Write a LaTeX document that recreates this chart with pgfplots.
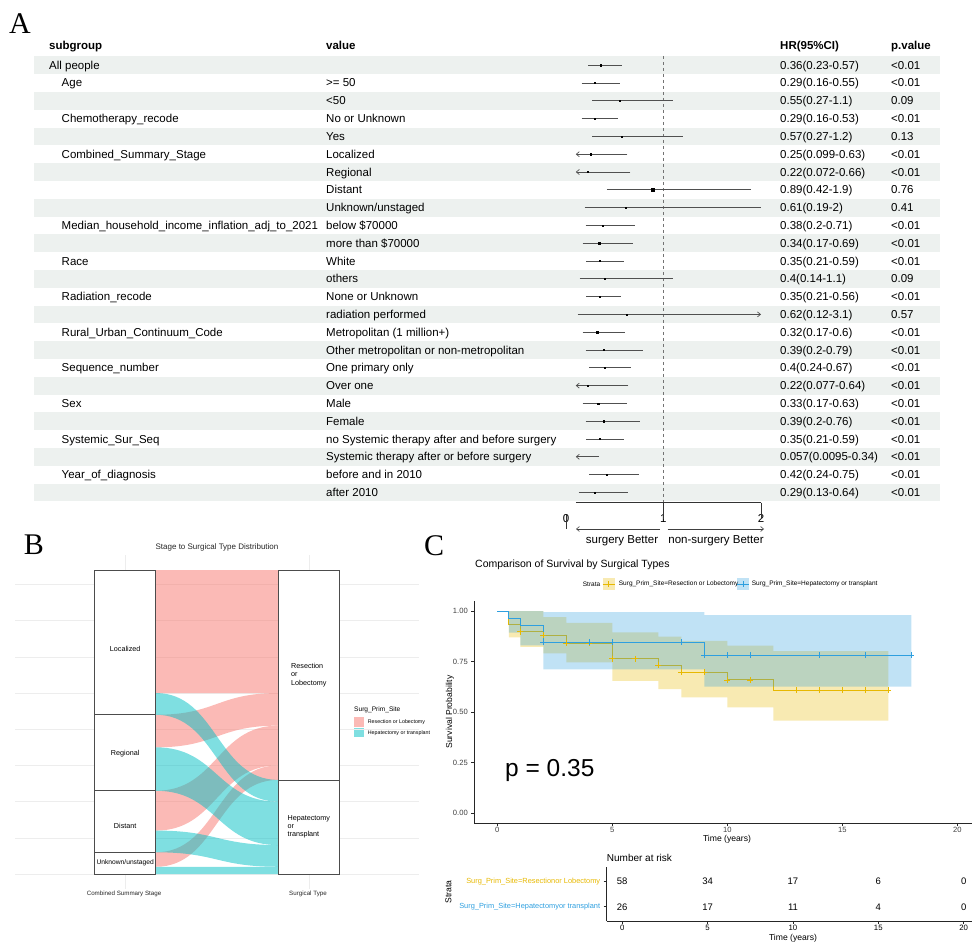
\documentclass[border=0pt]{standalone}
\usepackage{fontspec}
\setmainfont{Liberation Sans}
\newfontfamily\letterfont{Liberation Serif}
\usepackage{pgfplots}
\pgfplotsset{compat=1.18}
\usetikzlibrary{arrows.meta}
\definecolor{band}{RGB}{237,241,239}
\definecolor{cigray}{RGB}{80,80,80}
\definecolor{pinkB}{HTML}{F8766D}
\definecolor{tealB}{HTML}{00BFC4}
\definecolor{kmy}{HTML}{E7B800}
\definecolor{kmb}{HTML}{2E9FDF}
\newcommand{\fs}[1]{\fontsize{#1}{#1}\selectfont}
\tikzset{cell/.style={anchor=base west, inner sep=0pt, font=\fs{11.5}}}
\newcommand{\RW}[5]{%
 \node[cell] at (61.5,{69.2+17.8*#1}) {#2};
 \node[cell] at (326,{69.2+17.8*#1}) {#3};
 \node[cell] at (780,{69.2+17.8*#1}) {#4};
 \node[cell] at (891,{69.2+17.8*#1}) {#5};}
\newcommand{\flow}[5]{\fill[#5, fill opacity=0.5] (axis cs:1.1667,#1) .. controls (axis cs:1.5,#1) and (axis cs:1.5,#3) .. (axis cs:1.8333,#3) -- (axis cs:1.8333,#4) .. controls (axis cs:1.5,#4) and (axis cs:1.5,#2) .. (axis cs:1.1667,#2) -- cycle;}
\begin{document}
\begin{tikzpicture}
\useasboundingbox (0,0) rectangle (972pt,-942pt);
\begin{scope}[x=1pt,y=-1pt]
 % panel letters
 \node[font=\letterfont\fs{30}, inner sep=0pt] at (20,24) {A};
 \node[font=\letterfont\fs{30}, inner sep=0pt] at (34,545) {B};
 \node[font=\letterfont\fs{30}, inner sep=0pt] at (434,546) {C};
 % ---------- Panel A table ----------
 \foreach \i in {0,2,...,24} {\fill[band] (34,{65.2+17.8*\i-8.9}) rectangle (940,{65.2+17.8*\i+8.9});}
 \node[cell, font=\fs{11.5}\bfseries] at (49,49.5) {subgroup};
 \node[cell, font=\fs{11.5}\bfseries] at (326,49.5) {value};
 \node[cell, font=\fs{11.5}\bfseries] at (780,49.5) {HR(95\%CI)};
 \node[cell, font=\fs{11.5}\bfseries] at (891,49.5) {p.value};
 \node[cell] at (49,69.2) {All people};
 \node[cell] at (780,69.2) {0.36(0.23-0.57)};
 \node[cell] at (891,69.2) {<0.01};
 \RW{1}{Age}{>= 50}{0.29(0.16-0.55)}{<0.01}
 \RW{2}{}{<50}{0.55(0.27-1.1)}{0.09}
 \RW{3}{Chemotherapy\_recode}{No or Unknown}{0.29(0.16-0.53)}{<0.01}
 \RW{4}{}{Yes}{0.57(0.27-1.2)}{0.13}
 \RW{5}{Combined\_Summary\_Stage}{Localized}{0.25(0.099-0.63)}{<0.01}
 \RW{6}{}{Regional}{0.22(0.072-0.66)}{<0.01}
 \RW{7}{}{Distant}{0.89(0.42-1.9)}{0.76}
 \RW{8}{}{Unknown/unstaged}{0.61(0.19-2)}{0.41}
 \RW{9}{Median\_household\_income\_inflation\_adj\_to\_2021}{below \$70000}{0.38(0.2-0.71)}{<0.01}
 \RW{10}{}{more than \$70000}{0.34(0.17-0.69)}{<0.01}
 \RW{11}{Race}{White}{0.35(0.21-0.59)}{<0.01}
 \RW{12}{}{others}{0.4(0.14-1.1)}{0.09}
 \RW{13}{Radiation\_recode}{None or Unknown}{0.35(0.21-0.56)}{<0.01}
 \RW{14}{}{radiation performed}{0.62(0.12-3.1)}{0.57}
 \RW{15}{Rural\_Urban\_Continuum\_Code}{Metropolitan (1 million+)}{0.32(0.17-0.6)}{<0.01}
 \RW{16}{}{Other metropolitan or non-metropolitan}{0.39(0.2-0.79)}{<0.01}
 \RW{17}{Sequence\_number}{One primary only}{0.4(0.24-0.67)}{<0.01}
 \RW{18}{}{Over one}{0.22(0.077-0.64)}{<0.01}
 \RW{19}{Sex}{Male}{0.33(0.17-0.63)}{<0.01}
 \RW{20}{}{Female}{0.39(0.2-0.76)}{<0.01}
 \RW{21}{Systemic\_Sur\_Seq}{no Systemic therapy after and before surgery}{0.35(0.21-0.59)}{<0.01}
 \RW{22}{}{Systemic therapy after or before surgery}{0.057(0.0095-0.34)}{<0.01}
 \RW{23}{Year\_of\_diagnosis}{before and in 2010}{0.42(0.24-0.75)}{<0.01}
 \RW{24}{}{after 2010}{0.29(0.13-0.64)}{<0.01}
 % forest x axis labels
 \foreach \xx/\lab in {566/0,663.3/1,761/2} {\node[font=\fs{11.5}, inner sep=0pt] at (\xx,518.5) {\lab};}
 \draw[black!75, line width=0.6pt, -{Straight Barb[length=3pt,width=5pt]}] (660,529) -- (576,529);
 \draw[black!75, line width=0.6pt, -{Straight Barb[length=3pt,width=5pt]}] (667.7,529) -- (764,529);
 \node[font=\fs{11.5}, inner sep=0pt] at (622,541) {surgery Better};
 \node[font=\fs{11.5}, inner sep=0pt] at (716,541) {non-surgery Better};
 % ---------- Panel B texts ----------
 \node[font=\fs{8}, text=black!85] at (217,547) {Stage to Surgical Type Distribution};
 \node[font=\fs{6.2}, text=black!85] at (124,894) {Combined Summary Stage};
 \node[font=\fs{6.2}, text=black!85] at (308,894) {Surgical Type};
 \node[font=\fs{6.6}, anchor=west, inner sep=0pt] at (354,710) {Surg\_Prim\_Site};
 \fill[pinkB, fill opacity=0.5] (354,717.3) rectangle (364,726.7);
 \fill[tealB, fill opacity=0.5] (354,728) rectangle (364,737.3);
 \node[font=\fs{5.3}, anchor=west, inner sep=0pt] at (367.7,722) {Resection or Lobectomy};
 \node[font=\fs{5.3}, anchor=west, inner sep=0pt] at (367.7,732.7) {Hepatectomy or transplant};
 % ---------- Panel C texts ----------
 \node[font=\fs{10.5}, anchor=west, inner sep=0pt] at (475,564.3) {Comparison of Survival by Surgical Types};
 \node[font=\fs{6.5}, anchor=west, inner sep=0pt] at (582.7,584) {Strata};
 \fill[kmy, opacity=0.3] (602.7,578) rectangle (615,590);
 \draw[kmy, line width=0.8pt] (602.7,584) -- (615,584) (608.85,581) -- (608.85,587);
 \node[font=\fs{6.5}, anchor=west, inner sep=0pt] at (618.7,584) {Surg\_Prim\_Site=Resection or Lobectomy};
 \fill[kmb, opacity=0.3] (737,578) rectangle (749,590);
 \draw[kmb, line width=0.8pt] (737,584) -- (749,584) (743,581) -- (743,587);
 \node[font=\fs{6.5}, anchor=west, inner sep=0pt] at (751.7,584) {Surg\_Prim\_Site=Hepatectomy or transplant};
 \node[font=\fs{8.6}, rotate=90] at (450,712) {Survival Probability};
 \node[font=\fs{8.6}, inner sep=0pt] at (727,839.5) {Time (years)};
 \node[font=\fs{24.5}, anchor=west, inner sep=0pt] at (505,770) {p = 0.35};
 \node[font=\fs{10}, anchor=west, inner sep=0pt] at (606.7,858.3) {Number at risk};
 \node[font=\fs{8.6}, rotate=90] at (448.3,891.7) {Strata};
 \node[font=\fs{8.6}, inner sep=0pt] at (793,938) {Time (years)};
\end{scope}

% ---------- Panel A forest axis ----------
\begin{axis}[at={(566pt,-502.7pt)}, anchor=south west, scale only axis,
  width=195pt, height=446.7pt, xmin=0, xmax=2, ymin=-0.517, ymax=24.58,
  y dir=reverse, hide axis, clip=false,
  ci/.style={cigray, line width=0.7pt},
  ar/.style={cigray, line width=0.7pt, -{Straight Barb[length=3pt,width=5pt]}}]
 \draw[black!55, dashed, line width=0.5pt] (axis cs:1,-0.52) -- (axis cs:1,24.58);
 \draw[black!80, line width=0.6pt] (axis cs:0.1,24.58) -- (axis cs:2,24.58);
 \draw[black!80, line width=0.6pt] (axis cs:0,24.58) ++(0,-3.5pt) -- ++(0,-4pt);
 \draw[black!80, line width=0.6pt] (axis cs:1,24.58) -- ++(0,-7.5pt);
 \draw[black!80, line width=0.6pt] (axis cs:2,24.58) -- ++(0,-7.5pt);
 \addplot[ci] coordinates {(0.23,0) (0.57,0)};
 \addplot[ci] coordinates {(0.16,1) (0.55,1)};
 \addplot[ci] coordinates {(0.27,2) (1.1,2)};
 \addplot[ci] coordinates {(0.16,3) (0.53,3)};
 \addplot[ci] coordinates {(0.27,4) (1.2,4)};
 \addplot[ar] coordinates {(0.63,5) (0.1,5)};
 \addplot[ar] coordinates {(0.66,6) (0.1,6)};
 \addplot[ci] coordinates {(0.42,7) (1.9,7)};
 \addplot[ci] coordinates {(0.19,8) (2,8)};
 \addplot[ci] coordinates {(0.2,9) (0.71,9)};
 \addplot[ci] coordinates {(0.17,10) (0.69,10)};
 \addplot[ci] coordinates {(0.21,11) (0.59,11)};
 \addplot[ci] coordinates {(0.14,12) (1.1,12)};
 \addplot[ci] coordinates {(0.21,13) (0.56,13)};
 \addplot[ar] coordinates {(0.12,14) (2,14)};
 \addplot[ci] coordinates {(0.17,15) (0.6,15)};
 \addplot[ci] coordinates {(0.2,16) (0.79,16)};
 \addplot[ci] coordinates {(0.24,17) (0.67,17)};
 \addplot[ar] coordinates {(0.64,18) (0.1,18)};
 \addplot[ci] coordinates {(0.17,19) (0.63,19)};
 \addplot[ci] coordinates {(0.2,20) (0.76,20)};
 \addplot[ci] coordinates {(0.21,21) (0.59,21)};
 \addplot[ar] coordinates {(0.34,22) (0.1,22)};
 \addplot[ci] coordinates {(0.24,23) (0.75,23)};
 \addplot[ci] coordinates {(0.13,24) (0.64,24)};
 \addplot[only marks, mark=square*, mark size=0.55pt, black] coordinates {
  (0.36,0) (0.29,1) (0.55,2) (0.29,3) (0.57,4) (0.25,5) (0.22,6) (0.61,8)
  (0.38,9) (0.34,10) (0.35,11) (0.4,12) (0.35,13) (0.62,14) (0.32,15) (0.39,16)
  (0.4,17) (0.22,18) (0.33,19) (0.39,20) (0.35,21) (0.42,23) (0.29,24)};
 \addplot[only marks, mark=square*, mark size=1.7pt, black] coordinates {(0.89,7)};
\end{axis}

% ---------- Panel B alluvial ----------
\begin{axis}[at={(15pt,-889.2pt)}, anchor=south west, scale only axis,
  width=404pt, height=334.4pt, xmin=0.4, xmax=2.6, ymin=-4.2, ymax=88.2,
  axis line style={draw=none}, tick style={draw=none},
  xtick={1,2}, ytick={0,10,...,80}, xticklabels={}, yticklabels={},
  grid=major, grid style={black!7, line width=0.6pt}, clip=false]
 \flow{84}{50}{84}{50}{pinkB}
 \flow{44}{35}{50}{41}{pinkB}
 \flow{23}{12}{41}{30}{pinkB}
 \flow{6}{2}{30}{26}{pinkB}
 \flow{50}{44}{26}{20}{tealB}
 \flow{35}{23}{20}{8}{tealB}
 \flow{12}{6}{8}{2}{tealB}
 \flow{2}{0}{2}{0}{tealB}
 \draw[black!70, fill=white, line width=0.6pt] (axis cs:0.8333,84) rectangle (axis cs:1.1667,44);
 \draw[black!70, fill=white, line width=0.6pt] (axis cs:0.8333,44) rectangle (axis cs:1.1667,23);
 \draw[black!70, fill=white, line width=0.6pt] (axis cs:0.8333,23) rectangle (axis cs:1.1667,6);
 \draw[black!70, fill=white, line width=0.6pt] (axis cs:0.8333,6) rectangle (axis cs:1.1667,0);
 \draw[black!70, fill=white, line width=0.6pt] (axis cs:1.8333,84) rectangle (axis cs:2.1667,26);
 \draw[black!70, fill=white, line width=0.6pt] (axis cs:1.8333,26) rectangle (axis cs:2.1667,0);
 \node[font=\fs{7.2}] at (axis cs:1,62.3) {Localized};
 \node[font=\fs{7.2}] at (axis cs:1,33.3) {Regional};
 \node[font=\fs{7.2}] at (axis cs:1,13.3) {Distant};
 \node[font=\fs{6.7}] at (axis cs:1,3) {Unknown/unstaged};
 \node[font=\fontsize{7.2}{8.3}\selectfont, align=left] at (axis cs:2,55) {Resection\\or\\Lobectomy};
 \node[font=\fontsize{7.2}{8.3}\selectfont, align=left] at (axis cs:2,13) {Hepatectomy\\or\\transplant};
\end{axis}

% ---------- Panel C KM ----------
\begin{axis}[at={(474.3pt,-823.4pt)}, anchor=south west, scale only axis,
  width=506pt, height=222.5pt, xmin=-1, xmax=21, ymin=-0.05, ymax=1.05,
  axis lines*=left, axis line style={black!85, line width=0.7pt},
  xtick={0,5,10,15,20}, ytick={0,0.25,0.5,0.75,1},
  tick align=outside, major tick length=3pt, tick style={black!85, line width=0.6pt},
  /pgf/number format/assume math mode=true,
  ticklabel style={font=\fs{7.6}, text=black!75},
  xticklabel shift=-2.5pt,
  yticklabel style={/pgf/number format/fixed, /pgf/number format/fixed zerofill, /pgf/number format/precision=2},
  clip=false]
 \addplot[fill=kmy, fill opacity=0.3, draw=none] coordinates {
  (0,1) (2,1) (2,0.97) (3,0.97) (3,0.942) (5,0.942) (5,0.895) (7,0.895) (7,0.873) (8,0.873)
  (8,0.853) (10,0.853) (10,0.829) (12,0.829) (12,0.802) (17,0.802)
  (17,0.458) (12,0.458) (12,0.524) (10,0.524) (10,0.573) (8,0.573) (8,0.614) (7,0.614)
  (7,0.655) (5,0.655) (5,0.746) (3,0.746) (3,0.79) (2,0.79) (2,0.823) (1,0.823) (1,0.87)
  (0.5,0.87) (0.5,1) (0,1)} -- cycle;
 \addplot[const plot, kmy, line width=1pt] coordinates {(0,1) (0.5,0.931) (1,0.897) (2,0.879) (3,0.841) (5,0.765) (7,0.731) (8,0.697) (10,0.659) (12,0.609) (17,0.609)};
 \addplot[only marks, mark=+, mark size=3pt, kmy, line width=0.8pt] coordinates {(1,0.897) (2,0.879) (3,0.841) (4,0.841) (5,0.765) (6,0.765) (7,0.731) (8,0.697) (9,0.697) (10,0.659) (11,0.659) (13,0.609) (14,0.609) (15,0.609) (16,0.609) (17,0.609)};
 \addplot[fill=kmb, fill opacity=0.3, draw=none] coordinates {
  (0,1) (2,1) (2,0.995) (9,0.995) (9,0.98) (18,0.98)
  (18,0.626) (9,0.626) (9,0.712) (2,0.712) (2,0.83) (1,0.83) (1,0.893) (0.5,0.893) (0.5,1) (0,1)} -- cycle;
 \addplot[const plot, kmb, line width=1pt] coordinates {(0,1) (0.5,0.964) (1,0.926) (2,0.845) (9,0.782) (18,0.782)};
 \addplot[only marks, mark=+, mark size=3pt, kmb, line width=0.8pt] coordinates {(2,0.845) (4,0.845) (5,0.845) (8,0.845) (9,0.782) (10,0.782) (11,0.782) (14,0.782) (16,0.782) (18,0.782)};
\end{axis}

% ---------- Panel C risk table ----------
\begin{axis}[at={(606.7pt,-921pt)}, anchor=south west, scale only axis,
  width=375.6pt, height=54.3pt, xmin=-0.91, xmax=21.09, ymin=0.43, ymax=2.6,
  axis lines*=left, axis line style={black!85, line width=0.7pt},
  xtick={0,5,10,15,20}, ytick={1,2},
  yticklabels={{\textcolor{kmb}{Surg\_Prim\_Site=Hepatectomyor transplant}},{\textcolor{kmy}{Surg\_Prim\_Site=Resectionor Lobectomy}}},
  tick align=outside, major tick length=3pt, tick style={black!85, line width=0.6pt},
  /pgf/number format/assume math mode=true,
  xticklabel style={font=\fs{7.8}},
  xticklabel shift=-2.5pt,
  yticklabel style={font=\fs{7.4}},
  clip=false]
 \addplot[draw=none, mark=none, nodes near coords, point meta=explicit symbolic,
   every node near coord/.append style={anchor=center, font=\fs{9.5}}] coordinates {
   (0,2) [58] (5,2) [34] (10,2) [17] (15,2) [6] (20,2) [0]
   (0,1) [26] (5,1) [17] (10,1) [11] (15,1) [4] (20,1) [0]};
\end{axis}
\end{tikzpicture}
\end{document}
